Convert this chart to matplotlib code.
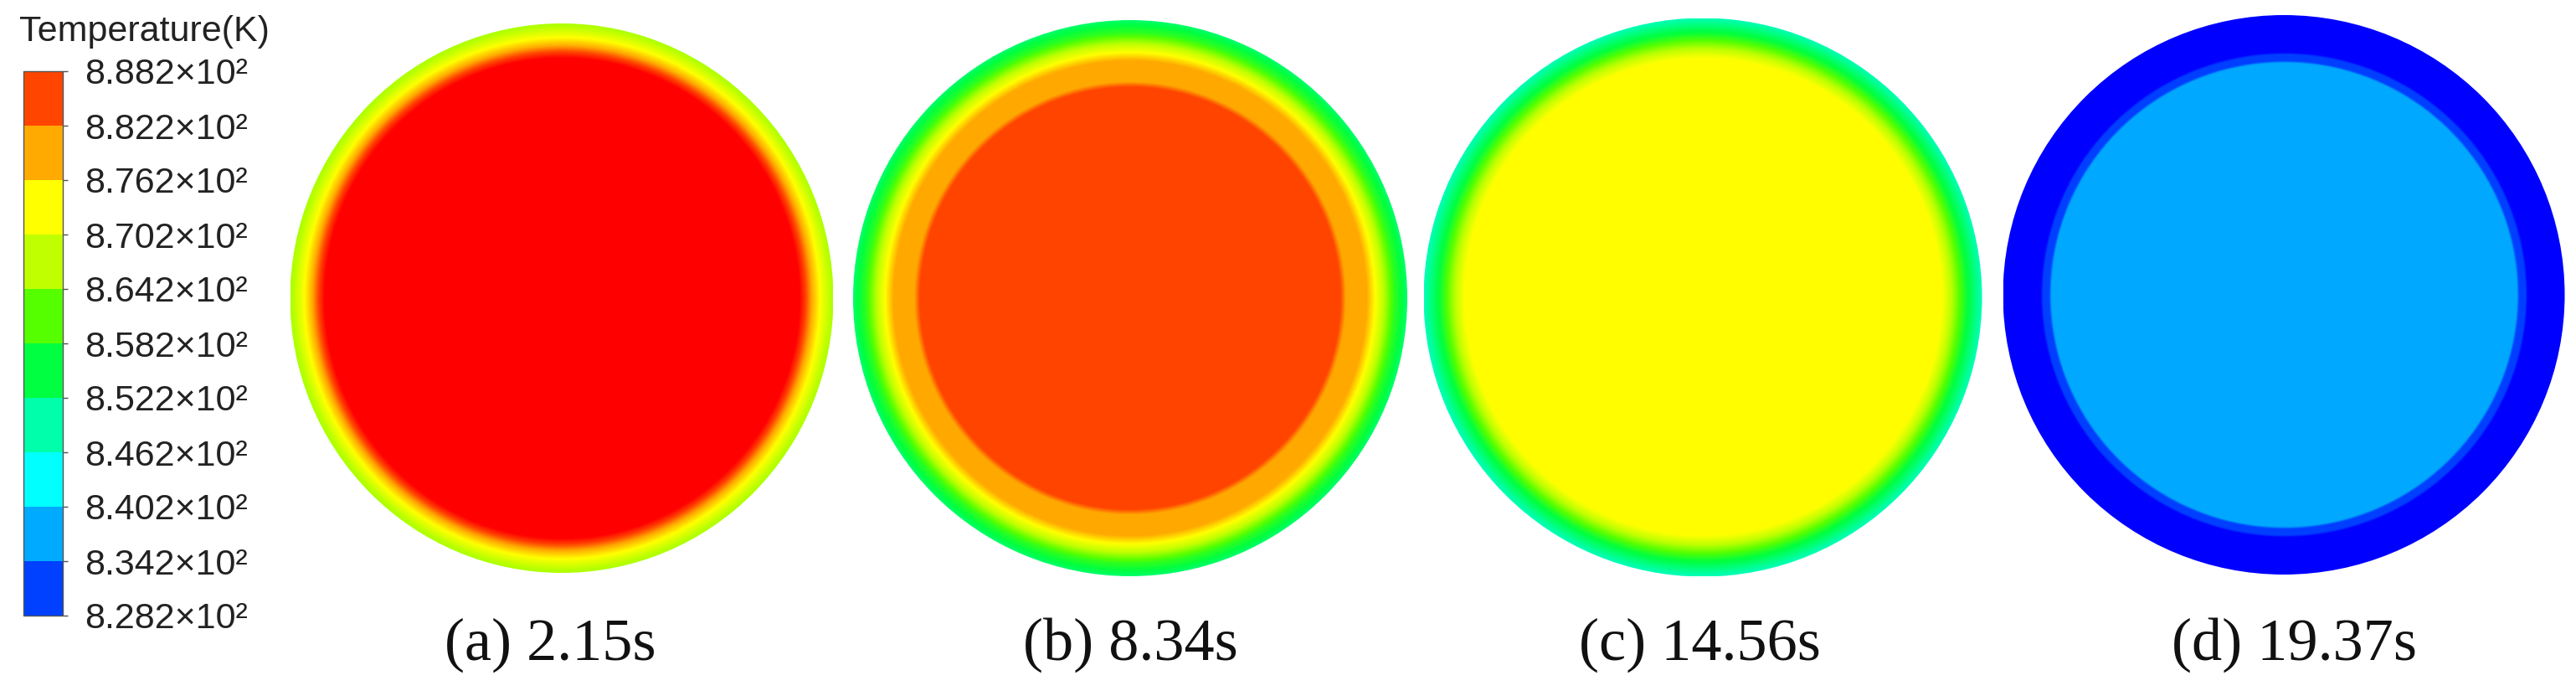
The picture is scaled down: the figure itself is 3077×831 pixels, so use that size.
import numpy as np
import matplotlib
matplotlib.use("Agg")
import matplotlib.pyplot as plt
from matplotlib.colors import ListedColormap, BoundaryNorm, LinearSegmentedColormap, Normalize
from matplotlib.colorbar import ColorbarBase
from matplotlib.patches import Circle

# Legend levels (K) and band colours, bottom to top
levels = [828.2, 834.2, 840.2, 846.2, 852.2, 858.2, 864.2, 870.2, 876.2, 882.2, 888.2]
band_colors = ['#0040ff', '#00aaff', '#00ffff', '#00ffaa', '#00ff40',
               '#55ff00', '#c0ff00', '#ffff00', '#ffaa00', '#ff4500']
under_color = '#0000ff'
over_color = '#ff0000'

# Panel captions
captions = ['(a) 2.15s', '(b) 8.34s', '(c) 14.56s', '(d) 19.37s']

# Radial temperature profiles (r normalised to the section edge)
r_a = [0.0, 0.875, 0.92, 0.95, 0.985, 1.0]
t_a = [891.2, 891.2, 879.2, 873.2, 867.2, 866.0]
r_b = [0.0, 0.76, 0.78, 0.855, 0.885, 0.915, 0.955, 1.0]
t_b = [885.2, 885.2, 879.2, 879.2, 873.2, 867.2, 858.5, 853.0]
r_c = [0.0, 0.855, 0.90, 0.945, 1.0]
t_c = [873.2, 873.2, 865.0, 856.0, 848.5]
r_d = [0.0, 0.83, 0.838, 0.86, 0.868, 1.0]
t_d = [837.2, 837.2, 831.2, 831.2, 825.2, 825.2]
profiles = [(r_a, t_a), (r_b, t_b), (r_c, t_c), (r_d, t_d)]

W, H = 3077, 831
fig = plt.figure(figsize=(W / 100, H / 100), dpi=100)
fig.patch.set_facecolor('white')

# continuous map for the fields, nodes at band centres
centres = [(levels[i] + levels[i + 1]) / 2 for i in range(10)]
vmin, vmax = centres[0] - 6.0, centres[-1] + 6.0
nodes = [vmin] + centres + [vmax]
node_cols = [under_color] + band_colors + [over_color]
field_cmap = LinearSegmentedColormap.from_list(
    'field', [((v - vmin) / (vmax - vmin), c) for v, c in zip(nodes, node_cols)])
field_norm = Normalize(vmin=vmin, vmax=vmax)

# section boxes in pixels: centre x, centre y (from top), width, height
boxes = [(671, 356, 649, 656), (1350, 356, 662, 664),
         (2034, 355, 667, 667), (2728, 352, 671, 668)]
caption_x = [657, 1350, 2030, 2740]

n = 700
xs = np.linspace(-1, 1, n)
X, Y = np.meshgrid(xs, xs)
R = np.sqrt(X ** 2 + Y ** 2)

for (cx, cy, w, h), (rr, tt), cap, capx in zip(boxes, profiles, captions, caption_x):
    ax = fig.add_axes([(cx - w / 2) / W, 1 - (cy + h / 2) / H, w / W, h / H])
    T = np.interp(R, rr, tt)
    im = ax.imshow(T, cmap=field_cmap, norm=field_norm, extent=[-1, 1, -1, 1],
                   interpolation='bilinear', aspect='auto', origin='lower')
    clip = Circle((0, 0), 1.0, transform=ax.transData)
    im.set_clip_path(clip)
    ax.set_xlim(-1, 1)
    ax.set_ylim(-1, 1)
    ax.axis('off')
    fig.text(capx / W, 1 - 770 / H, cap, ha='center', va='center',
             fontsize=52, family='Liberation Serif', color='#111111')

# colour legend
cax = fig.add_axes([28 / W, 1 - 735 / H, 47 / W, 650 / H])
cb = ColorbarBase(cax, cmap=ListedColormap(band_colors),
                  norm=BoundaryNorm(levels, 10), boundaries=levels,
                  ticks=levels, orientation='vertical')
cb.outline.set_linewidth(1.0)
cb.outline.set_edgecolor('#555555')
cax.set_yticklabels([f'{v / 100:.3f}×10²' for v in levels],
                    family='Liberation Sans', fontsize=31, color='#222222')
cax.tick_params(axis='y', length=4, width=1, color='#555555', pad=15)

fig.text(23 / W, 1 - 38 / H, 'Temperature(K)', ha='left', va='center',
         fontsize=31, family='Liberation Sans', color='#222222')

fig.savefig('out.png', dpi=100, facecolor='white')
